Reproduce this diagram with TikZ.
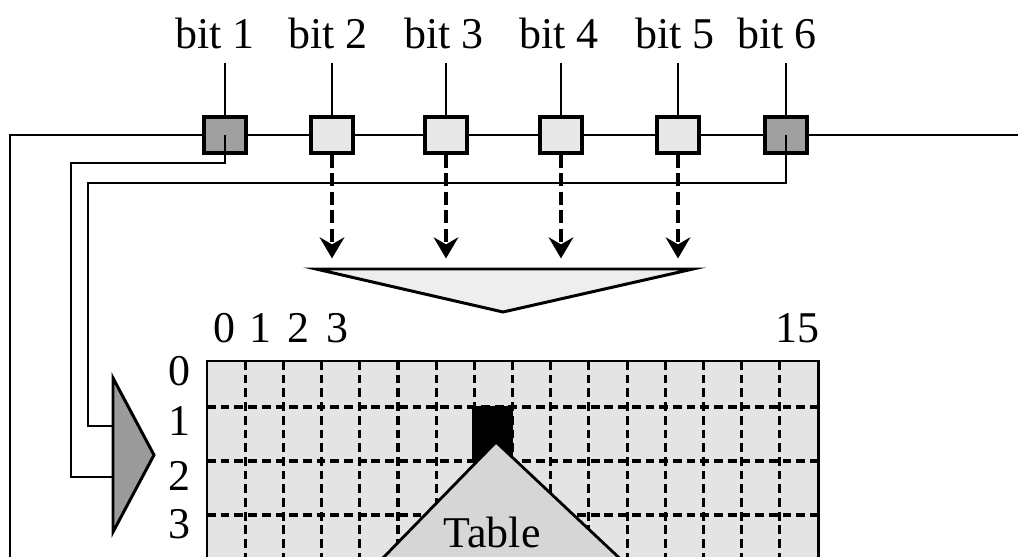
\documentclass[tikz,border=0pt]{standalone}
\usepackage{fontspec}
\setmainfont{Liberation Serif}
\usetikzlibrary{arrows.meta}
\definecolor{darkcell}{RGB}{160,160,160}
\definecolor{lightcell}{RGB}{232,232,232}
\definecolor{gridfill}{RGB}{228,228,228}
\definecolor{tablefill}{RGB}{214,214,214}
\definecolor{funnelfill}{RGB}{238,238,238}
\definecolor{muxfill}{RGB}{155,155,155}
\newcommand{\drawthick}{\draw[line width=1.7pt]}
\newcommand{\drawwire}{\draw[line width=1.3pt]}
\newcommand{\bigfont}{\fontsize{25}{30}\selectfont}
\tikzset{
  bitbox/.style={draw, line width=2pt, minimum width=0.84cm, minimum height=0.72cm, inner sep=0pt},
  bitlabel/.style={anchor=base, inner xsep=0pt, inner ysep=7.4pt, font=\bigfont},
  numlabel/.style={anchor=base, inner sep=0pt, font=\bigfont},
  gridline/.style={line width=1.8pt, dash pattern=on 5pt off 2.8pt},
  fetch/.style={line width=2.2pt, dash pattern=on 7.5pt off 3pt, shorten >=6pt,
    -{Stealth[length=12pt, width=14pt, inset=4pt]}},
}
\begin{document}
\begin{tikzpicture}[x=0.02cm, y=-0.02cm]
\useasboundingbox (0,0) rectangle (1018,557);
\clip (0,0) rectangle (1018,557);
% register line
\coordinate (busin) at (10,600);
\coordinate (busout) at (1018,135);
\drawwire (busin) |- (busout);
\foreach \i/\x/\c in {1/225/darkcell,2/332/lightcell,3/446/lightcell,4/561/lightcell,5/678/lightcell,6/786/darkcell}{
  \node[bitbox, fill=\c] (b\i) at (\x,135) {};
}
\foreach \i/\x in {1/215,2/328,3/444,4/559,5/675,6/777}{
  \node[bitlabel] (l\i) at (\x,49) {bit \i};
  \drawwire (b\i.north) -- (b\i.north |- l\i.south);
}
% row selector
\coordinate (muxtop) at (113,378);
\coordinate (muxbot) at (113,532);
\coordinate (muxout) at (154,455);
\coordinate (muxin1) at (113,426);
\coordinate (muxin2) at (113,477);
\drawwire (b1.center) |- (71,163) |- (muxin2);
\drawwire (b6.center) |- (88,183) |- (muxin1);
\drawthick[fill=muxfill] (muxtop) -- (muxout) -- (muxbot) -- cycle;
% column selector
\coordinate (fl) at (316,269);
\coordinate (fr) at (693,269);
\coordinate (fa) at (503,312);
\foreach \i in {2,...,5}{
  \draw[fetch] (b\i.south) -- (b\i.south |- fl);
}
\drawthick[fill=funnelfill] (fl) -- (fr) -- (fa) -- cycle;
% S-box table
\fill[gridfill] (207,361) rectangle (818,600);
\foreach \k in {1,...,15}{
  \draw[gridline] (207+\k*38.19,361) -- (207+\k*38.19,600);
}
\foreach \r in {407,461,515}{
  \draw[gridline] (207,\r) -- (818,\r);
}
\drawthick (207,600) -- (207,361) -- (818,361) -- (818,600);
\fill[black] (472,406) rectangle (513,461);
\draw[line width=1.6pt, fill=tablefill] (496,442) -- (342,600) -- (664,600) -- cycle;
\node[numlabel] (tbl) at (492,547) {Table};
\foreach \c/\x in {0/224,1/260,2/298,3/337}{
  \node[numlabel] (c\c) at (\x,342) {\c};
}
\node[numlabel] (c15) at (797,342) {15};
\foreach \r/\y in {0/385,1/435,2/490,3/538}{
  \node[numlabel] (r\r) at (179,\y) {\r};
}
\end{tikzpicture}
\end{document}
